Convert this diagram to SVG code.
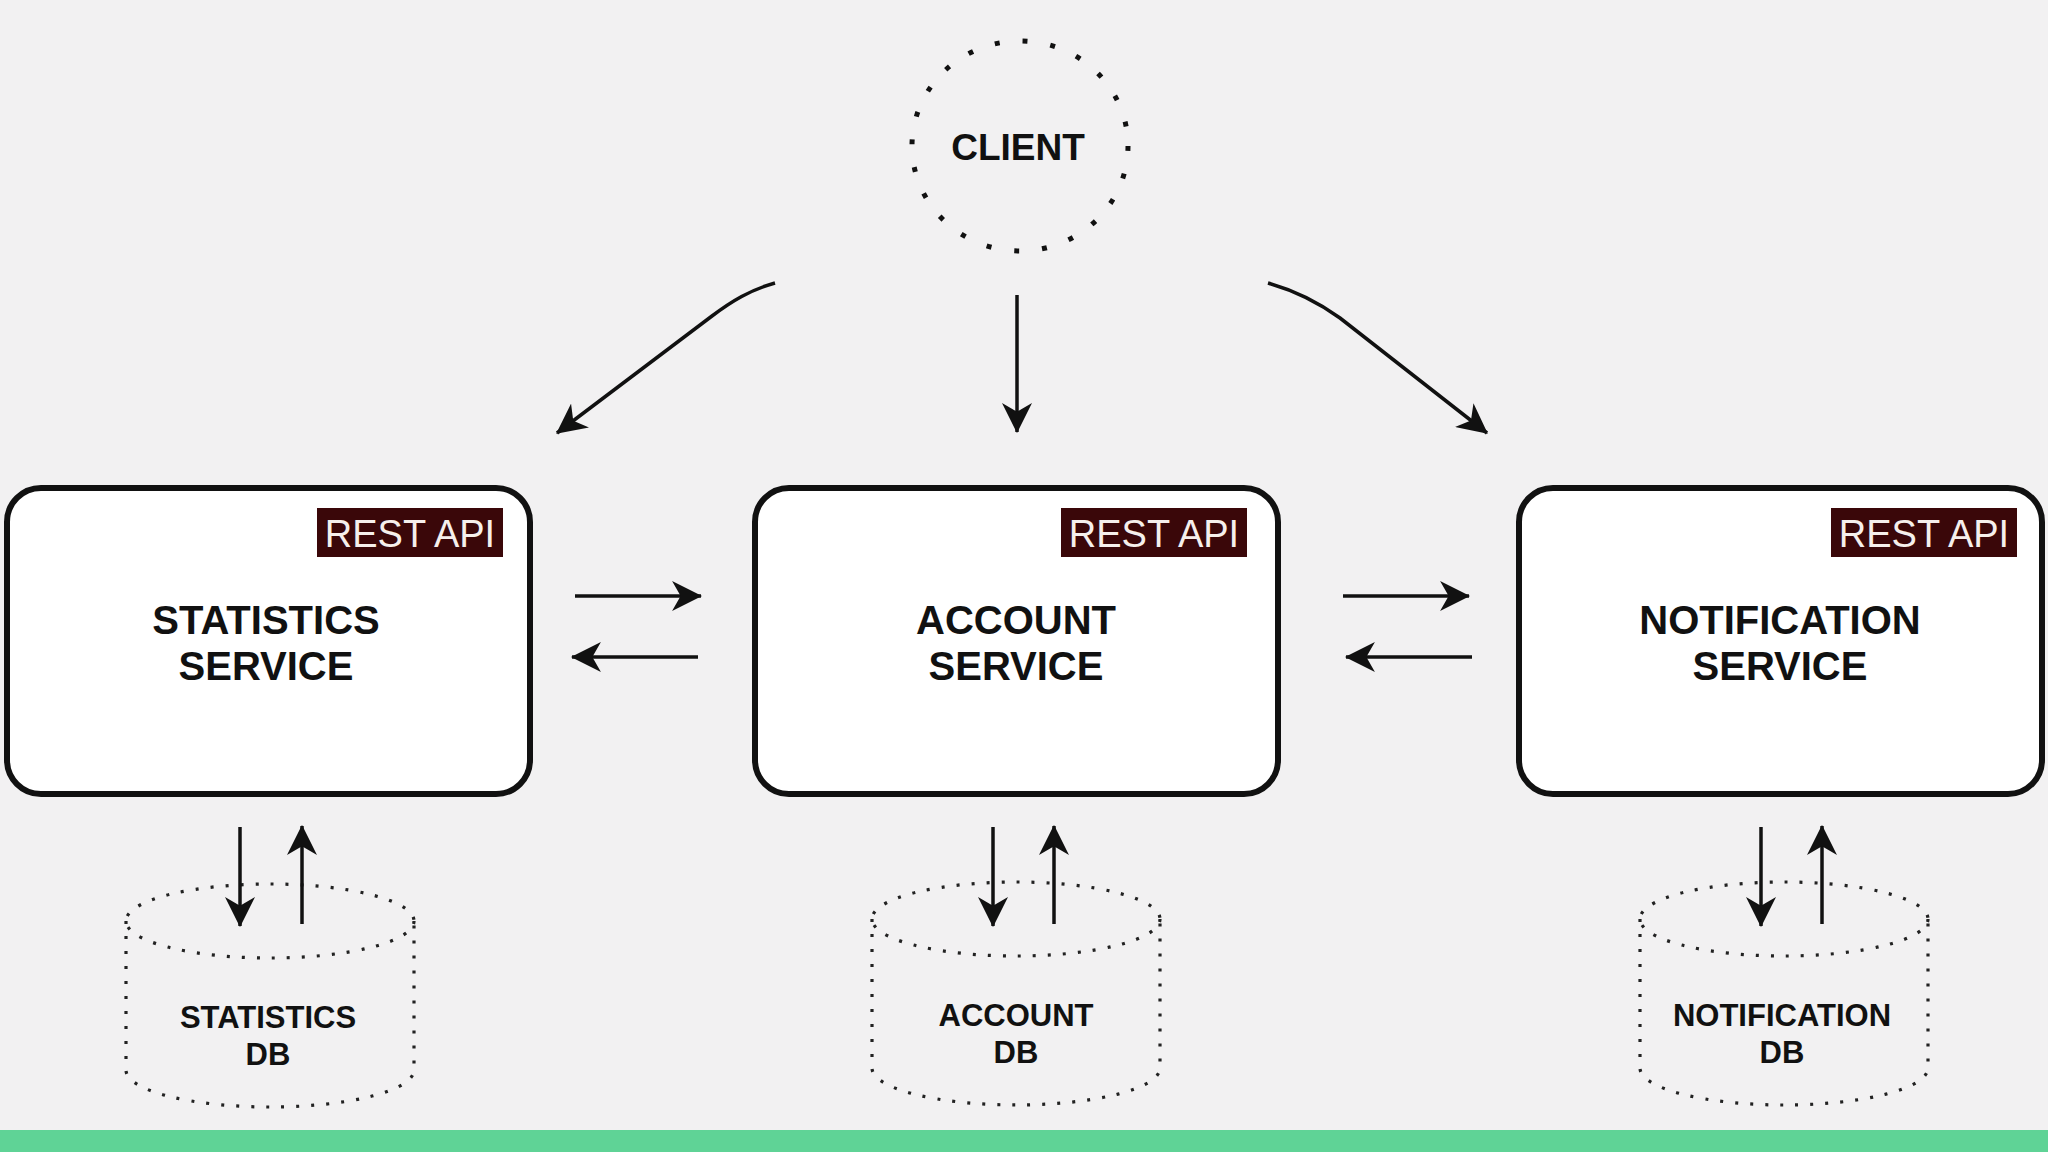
<svg xmlns="http://www.w3.org/2000/svg" width="2048" height="1152" viewBox="0 0 2048 1152">
<defs>
<style>
.title{font-family:"Liberation Sans",Arial,sans-serif;font-weight:bold;font-size:40px;fill:#111;text-anchor:middle}
.dbt{font-family:"Liberation Sans",Arial,sans-serif;font-weight:bold;font-size:31px;fill:#111;text-anchor:middle}
.api{font-family:"Liberation Sans",Arial,sans-serif;font-size:38px;fill:#f6efec;text-anchor:middle}
.box{fill:#fff;stroke:#111;stroke-width:6}
.tag{fill:#3a0709}
.db{fill:none;stroke:#222;stroke-width:3.2;stroke-dasharray:3 12;stroke-linecap:butt}
.con{fill:none;stroke:#111;stroke-width:3.5;marker-end:url(#ah)}
</style>
<marker id="ah" markerUnits="userSpaceOnUse" viewBox="0 0 28 28" markerWidth="30" markerHeight="30" refX="27" refY="14" orient="auto">
<path d="M0,0 L28,14 L0,28 L8,14 z" fill="#111"/>
</marker>
</defs>
<rect width="2048" height="1152" fill="#f2f1f2"/>
<rect x="0" y="1130" width="2048" height="22" fill="#5fd396"/>

<g id="client">
<ellipse cx="1020" cy="146" rx="108" ry="105" fill="none" stroke="#111" stroke-width="5" stroke-dasharray="5 23"/>
<text x="1018" y="160" font-family="'Liberation Sans',Arial,sans-serif" font-weight="bold" font-size="37" fill="#111" text-anchor="middle">CLIENT</text>
</g>

<g id="statistics-service">
<rect class="box" x="7" y="488" width="523" height="306" rx="34"/>
<rect class="tag" x="317" y="508" width="186" height="49"/>
<text class="api" x="410" y="547">REST API</text>
<text class="title" x="266" y="634">STATISTICS</text>
<text class="title" x="266" y="680">SERVICE</text>
</g>

<g id="account-service">
<rect class="box" x="755" y="488" width="523" height="306" rx="34"/>
<rect class="tag" x="1061" y="508" width="186" height="49"/>
<text class="api" x="1154" y="547">REST API</text>
<text class="title" x="1016" y="634">ACCOUNT</text>
<text class="title" x="1016" y="680">SERVICE</text>
</g>

<g id="notification-service">
<rect class="box" x="1519" y="488" width="523" height="306" rx="34"/>
<rect class="tag" x="1831" y="508" width="186" height="49"/>
<text class="api" x="1924" y="547">REST API</text>
<text class="title" x="1780" y="634">NOTIFICATION</text>
<text class="title" x="1780" y="680">SERVICE</text>
</g>

<g id="statistics-db">
<ellipse class="db" cx="270" cy="921" rx="144" ry="37"/>
<path class="db" d="M126,921 L126,1070 A144,37 0 0 0 414,1070 L414,921"/>
<text class="dbt" x="268" y="1028">STATISTICS</text>
<text class="dbt" x="268" y="1065">DB</text>
</g>

<g id="account-db">
<ellipse class="db" cx="1016" cy="919" rx="144" ry="37"/>
<path class="db" d="M872,919 L872,1068 A144,37 0 0 0 1160,1068 L1160,919"/>
<text class="dbt" x="1016" y="1026">ACCOUNT</text>
<text class="dbt" x="1016" y="1063">DB</text>
</g>

<g id="notification-db">
<ellipse class="db" cx="1784" cy="919" rx="144" ry="37"/>
<path class="db" d="M1640,919 L1640,1068 A144,37 0 0 0 1928,1068 L1928,919"/>
<text class="dbt" x="1782" y="1026">NOTIFICATION</text>
<text class="dbt" x="1782" y="1063">DB</text>
</g>

<g id="connectors">
<path class="con" d="M775,283 C750,290 732,301 712,316 L557,433"/>
<path class="con" d="M1017,295 L1017,432"/>
<path class="con" d="M1268,283 C1293,290 1318,302 1340,318 L1487,433"/>

<path class="con" d="M575,596 L701,596"/>
<path class="con" d="M698,657 L572,657"/>
<path class="con" d="M1343,596 L1469,596"/>
<path class="con" d="M1472,657 L1346,657"/>

<path class="con" d="M240,827 L240,926"/>
<path class="con" d="M302,924 L302,826"/>
<path class="con" d="M993,827 L993,926"/>
<path class="con" d="M1054,924 L1054,826"/>
<path class="con" d="M1761,827 L1761,926"/>
<path class="con" d="M1822,924 L1822,826"/>
</g>
</svg>
